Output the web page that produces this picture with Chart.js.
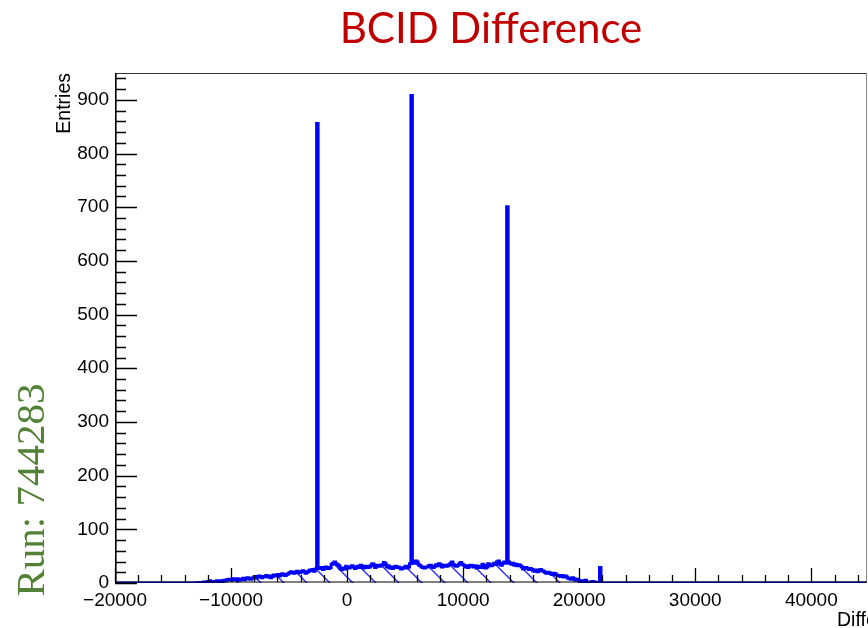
<!DOCTYPE html>
<html><head><meta charset="utf-8">
<script src="https://cdn.jsdelivr.net/npm/chart.js@4.4.1/dist/chart.umd.min.js"></script>
<style>html,body{margin:0;padding:0;background:#fff;}#wrap{width:868px;height:628px;position:relative;}</style>
</head><body><div id="wrap"><canvas id="c" width="868" height="628"></canvas></div>
<script>
// ---- data ----
const chartTitle = 'BCID Difference';
const runLabel = 'Run: 744283';
const xAxisTitle = 'Difference';
const yAxisTitle = 'Entries';
const xRange = [-20000, 44800];
const yRange = [0, 950];
const xTickValues = [-20000, -10000, 0, 10000, 20000, 30000, 40000];
const yTickValues = [0, 100, 200, 300, 400, 500, 600, 700, 800, 900];
const binStart = -13000;
const binWidth = 125;
const binCounts = [
  0, 0, 1, 0, 0, 1, 2, 1,          // -13000
  2, 3, 4, 3, 1, 2, 3, 4,          // -12000
  3, 4, 2, 3, 5, 4, 6, 7,          // -11000
  6, 5, 8, 7, 6, 8, 5, 6,          // -10000
  7, 9, 6, 8, 10, 8, 7, 9,         // -9000
  10, 12, 9, 11, 13, 11, 10, 12,   // -8000
  12, 14, 11, 13, 10, 12, 15, 13,  // -7000
  14, 16, 13, 15, 17, 15, 14, 16,  // -6000
  17, 19, 21, 19, 18, 20, 22, 20,  // -5000
  19, 21, 23, 21, 18, 20, 22, 24,  // -4000
  23, 25, 22, 26, 856, 28, 27, 29, // -3000
  25, 27, 30, 28, 27, 29, 35, 37,  // -2000
  39, 36, 34, 32, 27, 25, 28, 26,  // -1000
  31, 29, 28, 30, 32, 30, 27, 29,  // 0
  31, 29, 33, 31, 28, 30, 31, 29,  // 1000
  30, 32, 36, 34, 29, 31, 33, 31,  // 2000
  32, 34, 38, 36, 30, 32, 28, 30,  // 3000
  27, 29, 31, 29, 30, 28, 26, 28,  // 4000
  29, 31, 28, 30, 36, 908, 38, 37, // 5000
  41, 39, 34, 32, 30, 29, 28, 30,  // 6000
  30, 32, 33, 31, 29, 31, 34, 32,  // 7000
  36, 34, 30, 32, 33, 31, 32, 34,  // 8000
  37, 39, 34, 32, 31, 33, 36, 38,  // 9000
  35, 33, 30, 32, 29, 31, 33, 31,  // 10000
  30, 32, 28, 30, 31, 29, 35, 33,  // 11000
  28, 30, 36, 34, 32, 34, 37, 35,  // 12000
  39, 41, 35, 33, 37, 39, 37, 701, // 13000
  39, 37, 35, 37, 33, 35, 32, 34,  // 14000
  32, 30, 26, 28, 29, 27, 25, 27,  // 15000
  25, 23, 22, 24, 21, 23, 25, 23,  // 16000
  22, 20, 18, 20, 19, 17, 16, 18,  // 17000
  17, 15, 14, 13, 12, 14, 11, 13,  // 18000
  11, 9, 8, 7, 10, 8, 5, 7,        // 19000
  5, 3, 2, 4, 3, 5, 1, 2,          // 20000
  2, 1, 3, 2, 1, 0, 1, 29          // 21000
];

// histogram outline points (bin low edges, stepped)
const histPoints = [{x: xRange[0], y: 0}];
binCounts.forEach((c, i) => histPoints.push({x: binStart + i * binWidth, y: c}));
histPoints.push({x: binStart + binCounts.length * binWidth, y: 0});
histPoints.push({x: xRange[1], y: 0});

// hatch pattern
function makeHatch() {
  const s = 23;
  const pc = document.createElement('canvas');
  pc.width = s; pc.height = s;
  const p = pc.getContext('2d');
  p.strokeStyle = '#2a2aff';
  p.lineWidth = 1.4;
  p.beginPath();
  p.moveTo(-2, -2); p.lineTo(s + 2, s + 2);
  p.moveTo(-2, s - 2); p.lineTo(2, s + 2);
  p.moveTo(s - 2, -2); p.lineTo(s + 2, 2);
  p.stroke();
  return p.createPattern(pc, 'repeat');
}

const fontSans = "'Liberation Sans', Arial, Helvetica, sans-serif";
const fmt = v => (v < 0 ? '\u2212' + Math.abs(v) : String(v));

const rootStyle = {
  id: 'rootStyle',
  afterDatasetsDraw(chart) {
    const {ctx, chartArea: a, scales: {x, y}} = chart;
    ctx.save();
    // frame
    ctx.strokeStyle = '#333';
    ctx.lineWidth = 1.2;
    ctx.beginPath(); ctx.moveTo(a.left, a.top + 0.5); ctx.lineTo(a.right, a.top + 0.5); ctx.stroke();
    ctx.strokeStyle = '#888';
    ctx.lineWidth = 1;
    ctx.beginPath(); ctx.moveTo(a.right - 0.5, a.top); ctx.lineTo(a.right - 0.5, a.bottom); ctx.stroke();
    ctx.strokeStyle = '#000';
    ctx.lineWidth = 1.6;
    ctx.beginPath(); ctx.moveTo(a.left + 0.8, a.top); ctx.lineTo(a.left + 0.8, a.bottom); ctx.stroke();
    ctx.lineWidth = 1;
    ctx.beginPath(); ctx.moveTo(a.left, a.bottom - 1); ctx.lineTo(a.right, a.bottom - 1); ctx.stroke();
    // x ticks (inside)
    ctx.lineWidth = 1.3;
    ctx.beginPath();
    for (let v = xRange[0]; v <= xRange[1]; v += 2000) {
      const px = Math.round(x.getPixelForValue(v)) + 0.5;
      const len = (v % 10000 === 0) ? 14 : 7;
      ctx.moveTo(px, a.bottom - 1); ctx.lineTo(px, a.bottom - 1 - len);
    }
    ctx.stroke();
    // y ticks (inside)
    ctx.beginPath();
    for (let v = yRange[0]; v <= yRange[1]; v += 20) {
      const py = Math.round(y.getPixelForValue(v)) + 0.5;
      const len = (v % 100 === 0) ? 22 : 11;
      ctx.moveTo(a.left, py); ctx.lineTo(a.left + len, py);
    }
    ctx.stroke();
    // axis titles
    ctx.fillStyle = '#000';
    ctx.font = '19.5px ' + fontSans;
    ctx.textAlign = 'left';
    ctx.textBaseline = 'alphabetic';
    ctx.fillText(xAxisTitle, 837, 626);
    ctx.save();
    ctx.translate(70, a.top);
    ctx.rotate(-Math.PI / 2);
    ctx.textAlign = 'right';
    ctx.textBaseline = 'alphabetic';
    ctx.fillText(yAxisTitle, 0, 0);
    ctx.restore();
    // title
    ctx.fillStyle = '#c00000';
    ctx.font = '42px Lato, Carlito, Calibri, sans-serif';
    ctx.textAlign = 'center';
    ctx.textBaseline = 'alphabetic';
    ctx.fillText(chartTitle, (a.left + a.right) / 2, 43);
    // run label
    ctx.save();
    ctx.translate(44, 490);
    ctx.rotate(-Math.PI / 2);
    ctx.fillStyle = '#538135';
    ctx.font = "41px 'Liberation Serif', 'DejaVu Serif', serif";
    ctx.textAlign = 'center';
    ctx.textBaseline = 'alphabetic';
    ctx.fillText(runLabel, 0, 0);
    ctx.restore();
    ctx.restore();
  }
};

new Chart(document.getElementById('c'), {
  type: 'line',
  data: {
    datasets: [{
      data: histPoints,
      stepped: 'after',
      borderColor: '#0000ff',
      borderWidth: 3,
      pointRadius: 0,
      fill: 'origin',
      backgroundColor: makeHatch(),
      tension: 0
    }]
  },
  options: {
    responsive: false,
    animation: false,
    devicePixelRatio: 1,
    layout: {padding: {top: 73, right: 1, left: 0, bottom: 0}},
    plugins: {legend: {display: false}, tooltip: {enabled: false}, title: {display: false}},
    scales: {
      x: {
        type: 'linear',
        min: xRange[0], max: xRange[1],
        grid: {display: false, drawTicks: false},
        border: {display: false},
        afterBuildTicks: s => { s.ticks = xTickValues.map(v => ({value: v})); },
        afterFit: s => { s.height = 45; },
        ticks: {
          autoSkip: false, maxRotation: 0, padding: 6,
          color: '#000', font: {family: fontSans, size: 19},
          callback: v => fmt(v)
        }
      },
      y: {
        type: 'linear',
        min: yRange[0], max: yRange[1],
        grid: {display: false, drawTicks: false},
        border: {display: false},
        afterBuildTicks: s => { s.ticks = yTickValues.map(v => ({value: v})); },
        afterFit: s => { s.width = 115; },
        ticks: {
          autoSkip: false, padding: 6,
          color: '#000', font: {family: fontSans, size: 19},
          callback: v => fmt(v)
        }
      }
    }
  },
  plugins: [rootStyle]
});
</script>
</body></html>
